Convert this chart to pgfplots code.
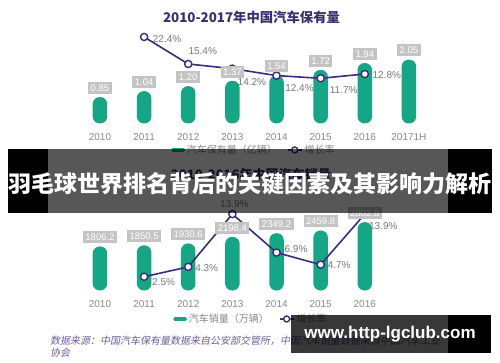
\documentclass[border=0pt]{standalone}
\usepackage{pgfplots}
\pgfplotsset{compat=1.18}
\usepackage{pgfplotstable}
\usepackage{graphicx}
\usepackage{fontspec}
\setmainfont{Liberation Sans}
\newfontfamily\cjk{Noto Sans CJK SC}
\newfontfamily\cjkit[FakeSlant=0.2]{Noto Sans CJK SC}
\definecolor{barg}{HTML}{16A685}
\definecolor{linep}{HTML}{3D2C7A}
\definecolor{ttl}{HTML}{3B2F70}
\definecolor{lblbox}{HTML}{C4C4C4}
\definecolor{pct}{HTML}{7A7A7A}
\definecolor{yr}{HTML}{8A8A8A}
\definecolor{src}{HTML}{6E5E98}

\pgfplotstableread{
x v lab
0 0.85 0.85
1 1.04 1.04
2 1.20 1.20
3 1.37 1.37
4 1.54 1.54
5 1.72 1.72
6 1.94 1.94
7 2.05 2.05
}\topbars
\pgfplotstableread{
x g lab dx dy
1 22.4 22.4 23 -2
2 15.4 15.4 14.5 13
3 14.2 14.2 19.5 -13.4
4 12.4 12.4 23 -12.4
5 11.7 11.7 23 -12
6 12.8 12.8 22 -1.5
}\topline
\pgfplotstableread{
x v lab
0 1806.2 1806.2
1 1850.5 1850.5
2 1930.6 1930.6
3 2198.4 2198.4
4 2349.2 2349.2
5 2459.8 2459.8
6 2802.8 2802.8
}\botbars
\pgfplotstableread{
x g lab dx dy
1 2.5 2.5 19.5 -5.3
2 4.3 4.3 18.5 -1
3 13.9 13.9 2 10
4 6.9 6.9 19.5 3.5
5 4.7 4.7 18.5 -0.5
6 13.9 13.9 18.5 -12
}\botline

\pgfplotsset{
  base/.style={scale only axis, width=353.1pt, xmin=-0.5, xmax=7.5, ymin=0, clip=false},
  barstyle/.style={ybar, bar width=14.5pt, bar shift=0pt, fill=barg, draw=none, rounded corners=7pt},
  linestyle/.style={linep, line width=1.6pt, mark=*, mark size=3.6pt,
    mark options={fill=white, draw=linep, line width=1.4pt, solid}},
  pctlabels/.style={nodes near coords={\pgfplotspointmeta\%}, point meta=explicit symbolic,
    visualization depends on={\thisrow{dx}\as\dx},
    visualization depends on={\thisrow{dy}\as\dy},
    every node near coord/.append style={anchor=center, xshift=\dx pt, yshift=\dy pt,
      font=\fontsize{10}{12}\selectfont, text=pct}},
  boxlabels/.style={draw=none, mark=none, nodes near coords, point meta=explicit symbolic,
    every node near coord/.append style={anchor=south, yshift=3pt, fill=lblbox, text=white,
      font=\fontsize{9.5}{10}\selectfont, inner xsep=2.5pt, inner ysep=2.5pt,
      text height=7pt, text depth=0pt}},
  yearaxis/.style={axis line style={draw=none}, ytick=\empty, tick style={draw=none},
    xticklabel style={font=\fontsize{10}{12}\selectfont, text=yr, anchor=center, yshift=-13.5pt}},
  leg/.style={legend style={draw=none, fill=none, legend columns=-1, anchor=center,
      font=\cjk\fontsize{10}{12}\selectfont, text=yr, inner sep=0pt,
      /tikz/every even column/.append style={column sep=8pt}},
    legend cell align=left},
}

\begin{document}
\begin{tikzpicture}[x=1pt,y=1pt]
\fill[white] (0,0) rectangle (500,362);
\useasboundingbox (0,0) rectangle (500,362);
\coordinate (TO) at (77.9,238.5);
\coordinate (BO) at (77.9,71.5);

% ---------- top chart ----------
\node[font=\cjk\bfseries\fontsize{14}{16}\selectfont, text=ttl, inner sep=0pt] at (251.5,345)
  {\resizebox{177pt}{!}{2010-2017年中国汽车保有量}};

\begin{axis}[base, yearaxis, at={(TO)}, anchor=south west, height=93.5pt, ymax=3.0,
  xtick={0,...,7}, xticklabels={2010,2011,2012,2013,2014,2015,2016,20171H}]
\addplot[barstyle] table[x=x,y=v]{\topbars};
\end{axis}

\begin{axis}[base, hide axis, at={(TO)}, anchor=south west, height=93.5pt, ymax=24.2,
  leg, legend style={at={(0.4987,-0.283)}}]
\addlegendimage{legend image code/.code={\draw[barg, line width=4.5pt, line cap=round] (0pt,0pt) -- (9pt,0pt);}}
\addlegendentry{汽车保有量（亿辆）}
\addplot[linestyle, pctlabels,
  legend image code/.code={\draw[linep, line width=1.6pt] (0pt,0pt) -- (14pt,0pt);
    \fill[white] (7pt,0pt) circle (3pt); \draw[linep, line width=1.4pt] (7pt,0pt) circle (3pt);}]
  table[x=x,y=g,meta=lab]{\topline};
\addlegendentry{增长率}
\end{axis}

\begin{axis}[base, hide axis, at={(TO)}, anchor=south west, height=93.5pt, ymax=3.0]
\addplot[boxlabels] table[x=x,y=v,meta=lab]{\topbars};
\end{axis}

% ---------- bottom chart ----------
\node[font=\cjk\bfseries\fontsize{14}{16}\selectfont, text=ttl, inner sep=0pt] at (251,188)
  {\resizebox{160pt}{!}{2010-2016年中国汽车销量}};

\begin{axis}[base, yearaxis, at={(BO)}, anchor=south west, height=80pt, ymax=3279,
  xtick={0,...,6}, xticklabels={2010,2011,2012,2013,2014,2015,2016}]
\addplot[barstyle] table[x=x,y=v]{\botbars};
\end{axis}

\begin{axis}[base, hide axis, at={(BO)}, anchor=south west, height=80pt, ymax=14.55,
  leg, legend style={at={(0.49,-0.356)}}]
\addlegendimage{legend image code/.code={\draw[barg, line width=4.5pt, line cap=round] (0pt,0pt) -- (9pt,0pt);}}
\addlegendentry{汽车销量（万辆）}
\addplot[linestyle, pctlabels,
  legend image code/.code={\draw[linep, line width=1.6pt] (0pt,0pt) -- (14pt,0pt);
    \fill[white] (7pt,0pt) circle (3pt); \draw[linep, line width=1.4pt] (7pt,0pt) circle (3pt);}]
  table[x=x,y=g,meta=lab]{\botline};
\addlegendentry{增长率}
\end{axis}

\begin{axis}[base, hide axis, at={(BO)}, anchor=south west, height=80pt, ymax=3279]
\addplot[boxlabels] table[x=x,y=v,meta=lab]{\botbars};
\end{axis}

% source
\node[anchor=west, font=\cjkit\fontsize{10}{12}\selectfont, text=src, inner sep=0pt] at (50,21)
  {数据来源：中国汽车保有量数据来自公安部交管所，中国汽车销量数据来自中国汽车工业};
\node[anchor=west, font=\cjkit\fontsize{10}{12}\selectfont, text=src, inner sep=0pt] at (50,9) {协会};

% ---------- banner ----------
\fill[black] (8,149) rectangle (48,213);
\fill[black] (448,149) rectangle (492,213);
\fill[black, opacity=0.66] (48,149) rectangle (448,213);
\node[text=white, font=\cjk\bfseries\fontsize{23}{26}\selectfont, inner sep=0pt] at (250,178.5)
  {\resizebox{484pt}{!}{羽毛球世界排名背后的关键因素及其影响力解析}};

% ---------- watermark ----------
\fill[black, opacity=0.78] (291,9) rectangle (448,47);
\fill[black] (448,9) rectangle (491,47);
\node[text=white, font=\bfseries\fontsize{17}{18}\selectfont, inner sep=0pt] at (390,28) {www.http-lgclub.com};
\end{tikzpicture}
\end{document}
